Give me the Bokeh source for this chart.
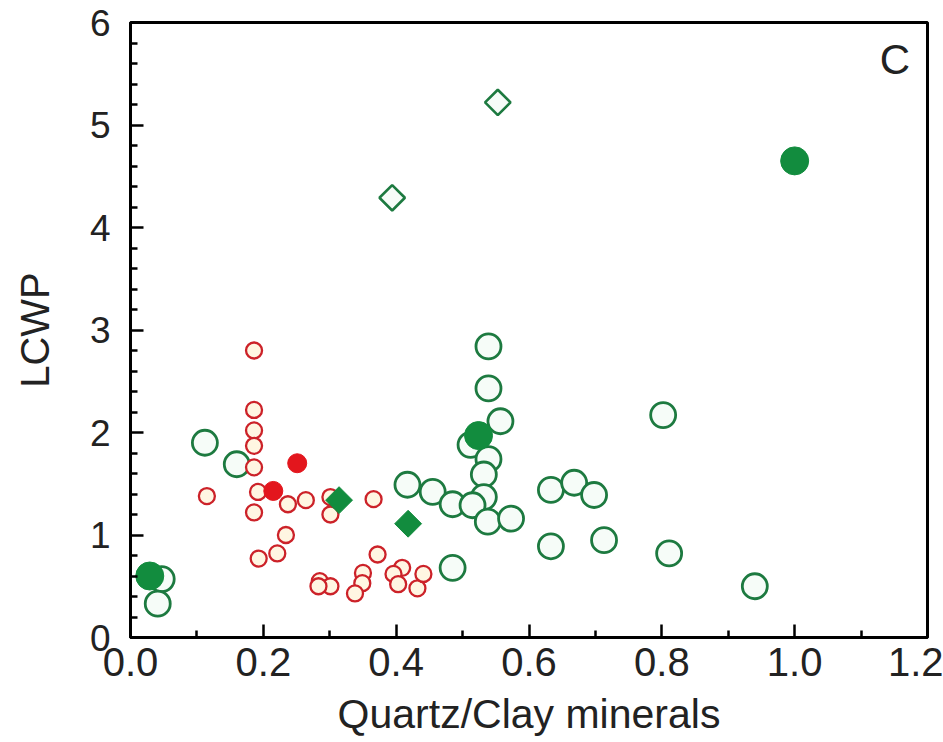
import math
from bokeh.plotting import figure
from bokeh.models import Range1d, FixedTicker, Label, NumeralTickFormatter
from bokeh.embed import file_html
from bokeh.resources import INLINE

# ---- data ----
green_open_x = [0.112, 0.160, 0.047, 0.041, 0.417, 0.455, 0.485, 0.485, 0.539, 0.539,
                0.557, 0.512, 0.539, 0.532, 0.532, 0.515, 0.538, 0.573, 0.633, 0.668,
                0.698, 0.633, 0.713, 0.802, 0.811, 0.940]
green_open_y = [1.90, 1.69, 0.57, 0.33, 1.49, 1.42, 1.30, 0.68, 2.84, 2.43,
                2.11, 1.88, 1.74, 1.59, 1.37, 1.29, 1.13, 1.16, 1.44, 1.51,
                1.39, 0.89, 0.95, 2.17, 0.82, 0.50]

green_fill_x = [0.029, 0.524, 1.000]
green_fill_y = [0.60, 1.97, 4.65]

green_diam_fill_x = [0.314, 0.418]
green_diam_fill_y = [1.34, 1.11]

green_diam_open_x = [0.394, 0.553]
green_diam_open_y = [4.29, 5.22]

red_fill_x = [0.251, 0.215]
red_fill_y = [1.70, 1.43]

red_open_x = [0.186, 0.186, 0.186, 0.186, 0.186, 0.115, 0.192, 0.186, 0.237, 0.264,
              0.301, 0.301, 0.366, 0.234, 0.221, 0.193, 0.372, 0.285, 0.301, 0.283,
              0.350, 0.349, 0.338, 0.409, 0.396, 0.403, 0.432, 0.441]
red_open_y = [2.80, 2.22, 2.02, 1.87, 1.66, 1.38, 1.42, 1.22, 1.30, 1.34,
              1.37, 1.20, 1.35, 1.00, 0.82, 0.77, 0.81, 0.55, 0.50, 0.50,
              0.63, 0.53, 0.43, 0.68, 0.62, 0.52, 0.48, 0.62]

x_ticks = [0.0, 0.2, 0.4, 0.6, 0.8, 1.0, 1.2]
x_minor = [0.1, 0.3, 0.5, 0.7, 0.9, 1.1]
y_ticks = [0, 1, 2, 3, 4, 5, 6]
y_minor = [round(i * 0.2, 1) for i in range(31) if i % 5 != 0]

FONT = "Liberation Sans"
GREEN_LINE = "#1d7a40"
GREEN_FILL = "#128c3e"
RED_LINE = "#cc2229"
RED_FILL = "#e3161d"
TEXT = "#222222"

p = figure(width=943, height=742, output_backend="svg", toolbar_location=None,
           x_range=Range1d(0, 1.2), y_range=Range1d(0, 6),
           min_border_left=130, min_border_right=16, min_border_top=22,
           min_border_bottom=105)
p.grid.visible = False
p.background_fill_color = "white"
p.border_fill_color = "white"
p.outline_line_color = "black"
p.outline_line_width = 3

for ax in (p.xaxis[0], p.yaxis[0]):
    ax.axis_line_width = 3
    ax.axis_line_color = "black"
    ax.major_tick_in = 13
    ax.major_tick_out = 0
    ax.minor_tick_in = 7
    ax.minor_tick_out = 0
    ax.major_tick_line_width = 2.5
    ax.minor_tick_line_width = 2.5
    ax.major_tick_line_color = "black"
    ax.minor_tick_line_color = "black"
    ax.major_label_text_font = FONT
    ax.axis_label_text_font = FONT
    ax.major_label_text_color = TEXT
    ax.axis_label_text_color = TEXT
    ax.axis_label_text_font_style = "normal"

p.xaxis.ticker = FixedTicker(ticks=x_ticks, minor_ticks=x_minor)
p.yaxis.ticker = FixedTicker(ticks=y_ticks, minor_ticks=y_minor)
p.xaxis.formatter = NumeralTickFormatter(format="0.0")
p.yaxis.formatter = NumeralTickFormatter(format="0")
p.xaxis.major_label_text_font_size = "40px"
p.yaxis.major_label_text_font_size = "37px"
p.xaxis.major_label_standoff = 10
p.yaxis.major_label_standoff = 20
p.xaxis.axis_label = "Quartz/Clay minerals"
p.yaxis.axis_label = "LCWP"
p.xaxis.axis_label_text_font_size = "41px"
p.yaxis.axis_label_text_font_size = "40px"
p.xaxis.axis_label_standoff = 12
p.yaxis.axis_label_standoff = 30

# markers
p.scatter(green_open_x, green_open_y, marker="circle", size=25,
          line_color=GREEN_LINE, line_width=2.8, fill_color="#f6fcf8")
p.scatter(red_open_x, red_open_y, marker="circle", size=16,
          line_color=RED_LINE, line_width=2.3, fill_color="#fff6e2")
p.scatter(red_fill_x, red_fill_y, marker="circle", size=19,
          line_color=RED_FILL, line_width=1, fill_color=RED_FILL)
p.scatter(green_fill_x, green_fill_y, marker="circle", size=28,
          line_color=GREEN_FILL, line_width=1, fill_color=GREEN_FILL)
p.scatter(green_diam_fill_x, green_diam_fill_y, marker="square", size=19,
          angle=math.pi / 4, line_color=GREEN_FILL, line_width=1, fill_color=GREEN_FILL)
p.scatter(green_diam_open_x, green_diam_open_y, marker="square", size=18,
          angle=math.pi / 4, line_color=GREEN_LINE, line_width=2.6, fill_color="#f6fcf8")

p.add_layout(Label(x=1.151, y=5.64, text="C", text_font=FONT, text_font_size="42px",
                   text_color=TEXT, text_align="center", text_baseline="middle"))

open("out.html", "w").write(file_html(p, INLINE))
